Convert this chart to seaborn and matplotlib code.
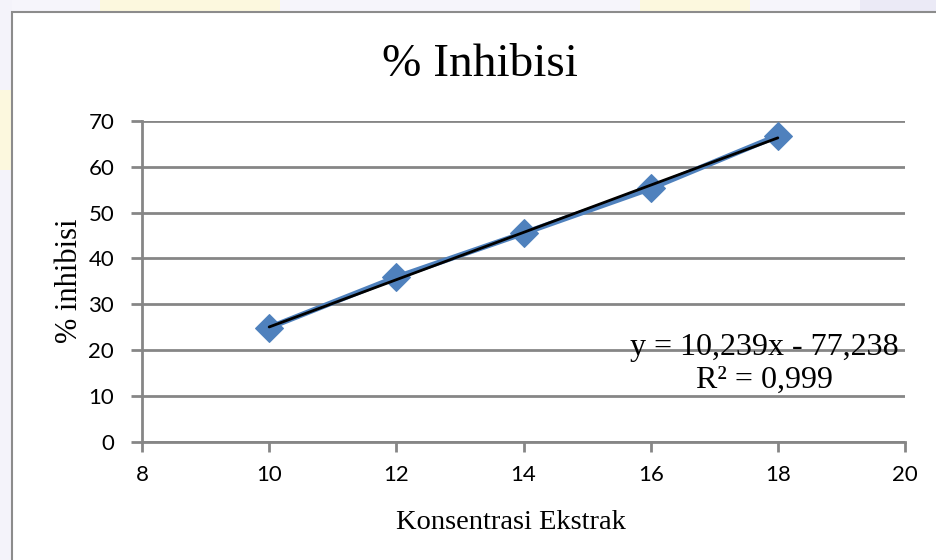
import matplotlib
matplotlib.use("Agg")
import matplotlib.pyplot as plt
import seaborn as sns
import numpy as np
import pandas as pd
from matplotlib.patches import Rectangle

# Data
konsentrasi = [10, 12, 14, 16, 18]
inhibisi = [24.9, 35.9, 45.5, 55.3, 66.8]
x_ticks = [8, 10, 12, 14, 16, 18, 20]
y_ticks = [0, 10, 20, 30, 40, 50, 60, 70]
title = "% Inhibisi"
x_label = "Konsentrasi Ekstrak"
y_label = "% inhibisi"
eq_text = "y = 10,239x - 77,238\nR\u00b2 = 0,999"

df = pd.DataFrame({"x": konsentrasi, "y": inhibisi})

sns.set_theme(style="white")
plt.rcParams["font.family"] = ["Lato", "DejaVu Sans"]

fig = plt.figure(figsize=(9.36, 5.6), dpi=100)
fig.patch.set_facecolor("white")

# pale watermark strips outside chart frame
W, H = 936, 560
def frect(x, y, w, h, color):
    fig.patches.append(Rectangle((x / W, 1 - (y + h) / H), w / W, h / H,
                                 transform=fig.transFigure, facecolor=color,
                                 edgecolor="none", zorder=0))
frect(0, 0, W, 12, "#f6f5fb")
frect(0, 0, 12, H, "#f4f3fa")
frect(100, 0, 180, 12, "#fcf8de")
frect(640, 0, 110, 12, "#fcf8de")
frect(860, 0, 76, 12, "#ebeaf6")
frect(0, 90, 12, 80, "#fcf8de")

# chart frame
fig.patches.append(Rectangle((12 / W, -0.05), 1.0, 1 - 12 / H + 0.05,
                             transform=fig.transFigure, facecolor="white",
                             edgecolor="#8c8c8c", linewidth=1.5, zorder=1))

ax = fig.add_axes([142 / W, 1 - 441.7 / H, (905 - 142) / W, (441.7 - 121) / H])
ax.set_zorder(2)
ax.patch.set_alpha(0)

sns.lineplot(data=df, x="x", y="y", ax=ax, color="#4F81BD", linewidth=4,
             marker="D", markersize=14, markeredgecolor="#4F81BD", zorder=3)
sns.regplot(data=df, x="x", y="y", ax=ax, scatter=False, ci=None, truncate=True,
            line_kws={"color": "black", "linewidth": 2, "zorder": 4})

ax.set_xlim(8, 20)
ax.set_ylim(0, 70)
ax.set_xticks(x_ticks)
ax.set_yticks(y_ticks)
ax.set_xticklabels([str(v) for v in x_ticks], fontsize=16, color="black")
ax.set_yticklabels([str(v) for v in y_ticks], fontsize=16, color="black")

ax.grid(axis="y", color="#868686", linewidth=2)
ax.grid(axis="x", visible=False)
for s in ["top", "right"]:
    ax.spines[s].set_visible(False)
for s in ["left", "bottom"]:
    ax.spines[s].set_color("#868686")
    ax.spines[s].set_linewidth(2)
ax.tick_params(axis="x", which="major", direction="out", length=7, width=2,
               color="#868686", bottom=True, pad=10)
ax.tick_params(axis="y", which="major", direction="out", length=8, width=2,
               color="#868686", left=True, pad=12)

ax.set_xlabel(x_label, fontsize=20.5, family="Liberation Serif", color="black")
ax.set_ylabel(y_label, fontsize=22, family="Liberation Serif", color="black")
ax.xaxis.set_label_coords(0.484, -0.214)
ax.yaxis.set_label_coords(-0.076, 0.501)

fig.text(480 / W, 1 - 65 / H, title, fontsize=34, family="Liberation Serif",
         ha="center", va="center", color="black")
fig.text(764 / W, 1 - 364 / H, eq_text, fontsize=23, family="Liberation Serif",
         ha="center", va="center", color="black", linespacing=1.15, zorder=5)

fig.savefig("out.png", dpi=100)
